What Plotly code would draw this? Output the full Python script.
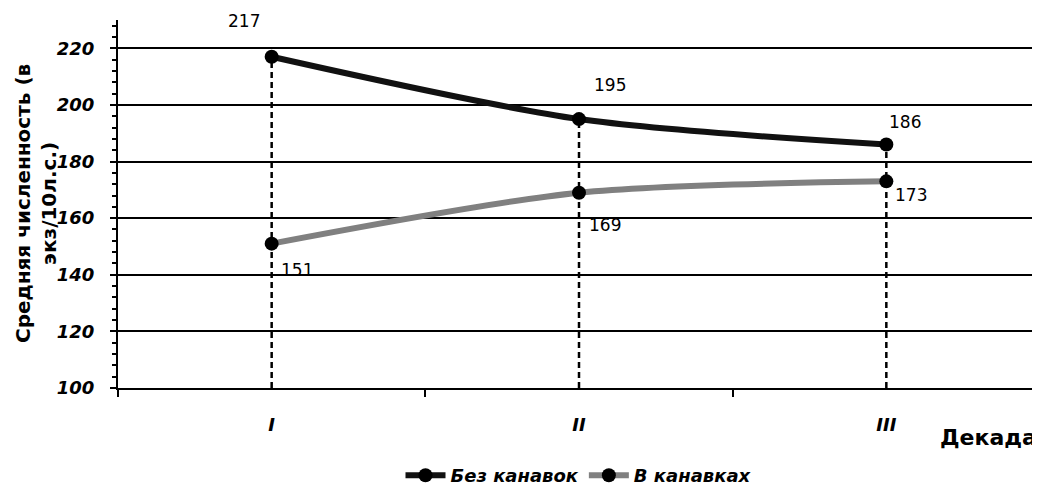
import plotly.graph_objects as go

categories = ["I", "II", "III"]
bez_kanavok = [217, 195, 186]
v_kanavkah = [151, 169, 173]
series_names = ["Без канавок", "В канавках"]
y_title = "Средняя численность (в<br>экз/10л.с.)"
x_title = "Декада"

FONT = "DejaVu Sans, Liberation Sans, sans-serif"

fig = go.Figure()

# drop lines
for c, a, b in zip(categories, bez_kanavok, v_kanavkah):
    fig.add_trace(go.Scatter(x=[c, c], y=[100, max(a, b)], mode="lines",
                             line=dict(color="black", width=2.5, dash="6px,4px"),
                             showlegend=False, hoverinfo="skip"))

fig.add_trace(go.Scatter(x=categories, y=bez_kanavok, name=series_names[0],
                         mode="lines+markers", line=dict(color="#111111", width=6, shape="spline", smoothing=0.8),
                         marker=dict(color="black", size=14)))
fig.add_trace(go.Scatter(x=categories, y=v_kanavkah, name=series_names[1],
                         mode="lines+markers", line=dict(color="#808080", width=6, shape="spline", smoothing=0.8),
                         marker=dict(color="black", size=14)))

lab_font = dict(family=FONT, size=17, color="black")
shifts_top = [(-28, 36), (31, 34), (19, 23)]
shifts_bot = [(25, -26), (26, -32), (25, -14)]
for c, v, (dx, dy) in zip(categories, bez_kanavok, shifts_top):
    fig.add_annotation(x=c, y=v, text=str(v), showarrow=False, xshift=dx, yshift=dy, font=lab_font)
for c, v, (dx, dy) in zip(categories, v_kanavkah, shifts_bot):
    fig.add_annotation(x=c, y=v, text=str(v), showarrow=False, xshift=dx, yshift=dy, font=lab_font)

fig.add_annotation(x=1, y=0, xref="paper", yref="paper", text="<b>" + x_title + "</b>",
                   showarrow=False, xanchor="right", yanchor="middle", yshift=-49, xshift=-1,
                   font=dict(family=FONT, size=22, color="black"))

fig.add_annotation(x=0, y=0.5, xref="paper", yref="paper", text="<b>" + y_title + "</b>",
                   showarrow=False, textangle=-90, xanchor="center", yanchor="middle", xshift=-82,
                   font=dict(family=FONT, size=20, color="black"))

fig.update_layout(
    width=1032, height=487,
    margin=dict(l=110, r=0, t=12, b=107),
    paper_bgcolor="white", plot_bgcolor="white",
    showlegend=True,
    legend=dict(orientation="h", x=0.5, xanchor="center", y=-0.288, yanchor="bottom",
                font=dict(family=FONT, size=18, color="black", weight="bold", style="italic"),
                itemwidth=40, tracegroupgap=0),
    xaxis=dict(type="category", range=[-0.5, 2.5], tickson="boundaries", automargin=False,
               ticks="outside", ticklen=7, tickwidth=2, tickcolor="black",
               showline=True, linecolor="black", linewidth=2, showgrid=False,
               ticklabelstandoff=19,
               tickfont=dict(family=FONT, size=18, color="black", weight="bold", style="italic")),
    yaxis=dict(range=[100, 230], tickvals=[100, 120, 140, 160, 180, 200, 220], automargin=False,
               ticks="outside", ticklen=6, tickwidth=2, tickcolor="black",
               showline=True, linecolor="black", linewidth=2,
               showgrid=True, gridcolor="black", gridwidth=2, zeroline=False,
               ticklabelstandoff=12,
               minor=dict(dtick=4, ticks="outside", ticklen=4, tickwidth=1.5, tickcolor="black", showgrid=False),
               tickfont=dict(family=FONT, size=18, color="black", weight="bold", style="italic")),
)

fig.write_html("out.html")
